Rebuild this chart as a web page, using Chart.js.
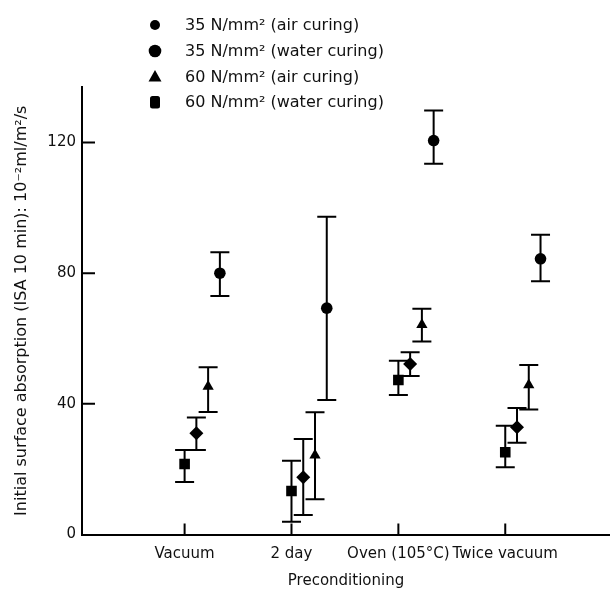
<!DOCTYPE html>
<html lang="en">
<head>
    <meta charset="UTF-8">
    <title>Initial surface absorption</title>
    <script src="https://cdn.jsdelivr.net/npm/chart.js@4"></script>
    <style>
        body {
            margin: 0;
            background: #fff;
        }
        #wrap {
            position: relative;
            width: 610px;
            height: 591px;
        }
        #legend {
            position: absolute;
            left: 145px;
            top: 12px;
            font-family: "DejaVu Sans", sans-serif;
            font-size: 16px;
            color: #111;
        }
        #legend .row {
            display: flex;
            align-items: center;
            height: 25.7px;
        }
        #legend svg {
            width: 20px;
            height: 16px;
            margin-right: 20px;
        }
    </style>
</head>
<body>
    <div id="wrap">
        <canvas id="chart" width="610" height="591"></canvas>
        <div id="legend"></div>
    </div>

    <script>
        // categories on the x axis
        const categories = ['Vacuum', '2 day', 'Oven (105°C)', 'Twice vacuum'];
        const yTicks = [0, 40, 80, 120];

        const seriesNames = [
            '35 N/mm² (air curing)',
            '35 N/mm² (water curing)',
            '60 N/mm² (air curing)',
            '60 N/mm² (water curing)'
        ];

        // mean values and error bar ends
        const air35 = [80.0, 69.3, 120.6, 84.4];
        const air35Low = [73.0, 41.2, 113.5, 77.5];
        const air35High = [86.4, 97.3, 129.8, 91.8];

        const water35 = [31.0, 17.5, 52.2, 32.8];
        const water35Low = [25.9, 6.0, 48.5, 28.1];
        const water35High = [35.8, 29.2, 55.8, 38.7];

        const air60 = [45.3, 24.3, 64.2, 45.8];
        const air60Low = [37.5, 10.8, 59.1, 38.3];
        const air60High = [51.2, 37.4, 69.1, 51.9];

        const water60 = [21.6, 13.3, 47.3, 25.2];
        const water60Low = [16.1, 3.9, 42.7, 20.6];
        const water60High = [25.9, 22.6, 53.2, 33.3];

        // small sideways shift of each series inside a group
        const shift = [0.33, 0.11, 0.22, 0];
        const markers = [
            {style: 'circle', r: 5.8},
            {style: 'rectRot', r: 7},
            {style: 'triangle', r: 6.5},
            {style: 'rect', r: 7.5}
        ];

        function points(vals, lows, highs, s) {
            return vals.map((v, i) => ({x: i + 1 + shift[s], y: v, low: lows[i], high: highs[i]}));
        }

        const seriesData = [
            points(air35, air35Low, air35High, 0),
            points(water35, water35Low, water35High, 1),
            points(air60, air60Low, air60High, 2),
            points(water60, water60Low, water60High, 3)
        ];

        // error bars and inward tick marks
        const errorBars = {
            id: 'errorBars',
            afterDatasetsDraw(chart) {
                const ctx = chart.ctx;
                const x = chart.scales.x, y = chart.scales.y;
                ctx.save();
                ctx.strokeStyle = '#000';
                ctx.lineWidth = 2;
                chart.data.datasets.forEach(ds => {
                    ds.data.forEach(p => {
                        const px = x.getPixelForValue(p.x);
                        const top = y.getPixelForValue(p.high);
                        const bot = y.getPixelForValue(p.low);
                        ctx.beginPath();
                        ctx.moveTo(px, top); ctx.lineTo(px, bot);
                        ctx.moveTo(px - 9.5, top); ctx.lineTo(px + 9.5, top);
                        ctx.moveTo(px - 9.5, bot); ctx.lineTo(px + 9.5, bot);
                        ctx.stroke();
                    });
                });
                ctx.beginPath();
                y.ticks.forEach(t => {
                    if (t.value === 0) return;
                    const py = y.getPixelForValue(t.value);
                    ctx.moveTo(x.left, py); ctx.lineTo(x.left + 13, py);
                });
                x.ticks.forEach(t => {
                    const px = x.getPixelForValue(t.value);
                    ctx.moveTo(px, y.bottom); ctx.lineTo(px, y.bottom - 11);
                });
                ctx.stroke();
                ctx.restore();
            }
        };

        new Chart(document.getElementById('chart'), {
            type: 'scatter',
            data: {
                datasets: seriesData.map((d, s) => ({
                    label: seriesNames[s],
                    data: d,
                    pointStyle: markers[s].style,
                    pointRadius: markers[s].r,
                    pointHoverRadius: markers[s].r,
                    backgroundColor: '#000',
                    borderColor: '#000',
                    borderWidth: 0
                }))
            },
            options: {
                responsive: false,
                animation: false,
                layout: {
                    autoPadding: false,
                    padding: { top: 87, right: 0, left: 0, bottom: 0 }
                },
                plugins: {
                    legend: { display: false },
                    tooltip: { enabled: false }
                },
                scales: {
                    x: {
                        type: 'linear',
                        min: 0.04,
                        max: 4.98,
                        afterBuildTicks: axis => { axis.ticks = categories.map((c, i) => ({value: i + 1})); },
                        afterFit: axis => {
                            axis.height = 56.5;
                            axis.paddingLeft = 0;
                            axis.paddingRight = 0;
                        },
                        grid: { display: false, drawTicks: false },
                        border: { display: true, color: '#000', width: 2 },
                        ticks: {
                            autoSkip: false,
                            maxRotation: 0,
                            padding: 11,
                            color: '#111',
                            font: { family: 'DejaVu Sans', size: 15 },
                            callback: v => categories[v - 1]
                        },
                        title: {
                            display: true,
                            text: 'Preconditioning',
                            color: '#111',
                            font: { family: 'DejaVu Sans', size: 15 },
                            padding: { top: 0, bottom: 1 }
                        }
                    },
                    y: {
                        min: 0,
                        max: 137,
                        afterBuildTicks: axis => { axis.ticks = yTicks.map(v => ({value: v})); },
                        afterFit: axis => { axis.width = 82; },
                        grid: { display: false, drawTicks: false },
                        border: { display: true, color: '#000', width: 2 },
                        ticks: {
                            padding: 6,
                            color: '#111',
                            font: { family: 'DejaVu Sans', size: 15 }
                        },
                        title: {
                            display: true,
                            text: 'Initial surface absorption (ISA 10 min): 10⁻²ml/m²/s',
                            color: '#111',
                            font: { family: 'DejaVu Sans', size: 16 },
                            padding: { top: 12, bottom: 0 }
                        }
                    }
                }
            },
            plugins: [errorBars]
        });

        // legend as html, markers drawn with svg
        const legendShapes = [
            '<circle cx="10" cy="8" r="5" fill="#000"/>',
            '<circle cx="10" cy="8" r="6.3" fill="#000"/>',
            '<polygon points="10,2 16.5,13.5 3.5,13.5" fill="#000"/>',
            '<rect x="5" y="2" width="10" height="12.5" rx="2.5" fill="#000"/>'
        ];
        const legend = document.getElementById('legend');
        seriesNames.forEach((name, i) => {
            const row = document.createElement('div');
            row.className = 'row';
            row.innerHTML = `<svg viewBox="0 0 20 16">${legendShapes[i]}</svg><span>${name}</span>`;
            legend.appendChild(row);
        });
    </script>
</body>
</html>
